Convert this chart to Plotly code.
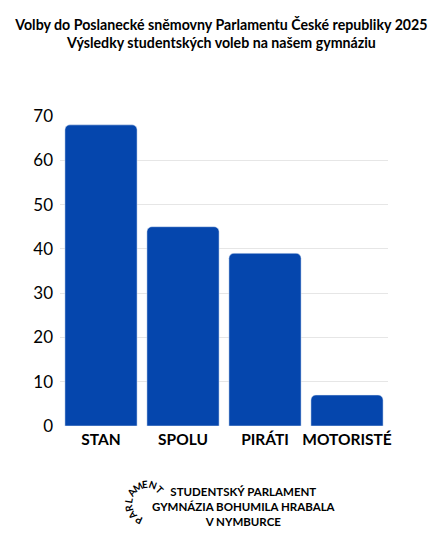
import plotly.graph_objects as go
import math

parties = ["STAN", "SPOLU", "PIRÁTI", "MOTORISTÉ"]
votes = [68, 45, 39, 7]
yticks = [0, 10, 20, 30, 40, 50, 60, 70]

OFF = 8  # page body margin
L, R, T, B = 52, 60, 108, 127
W, H = 440, 545
pw, ph = W - L - R, H - T - B

def px(x, y):
    x -= OFF; y -= OFF
    return (x - L) / pw, (H - B - y) / ph

fig = go.Figure(go.Bar(x=parties, y=votes, marker_color="#0546ad", width=0.88))
fig.update_layout(
    width=W, height=H, margin=dict(l=L, r=R, t=T, b=B, autoexpand=False),
    plot_bgcolor="white", paper_bgcolor="white", barcornerradius=5,
    font=dict(family="Lato", color="black"), showlegend=False,
    title=dict(text="<b>Volby do Poslanecké sněmovny Parlamentu České republiky 2025<br>Výsledky studentských voleb na našem gymnáziu</b>",
               x=0.485, xanchor="center", y=0.96, yanchor="top", font=dict(size=14.2, family="Lato")),
)
fig.update_yaxes(range=[0, 70], tickvals=yticks, showgrid=True, gridcolor="#e6e6e6", gridwidth=1, automargin=False,
                 tickfont=dict(size=17, family="Lato", color="black"), ticklabelstandoff=6, zeroline=False,
                 ticks="", showline=False, tickprefix="<b>", ticksuffix="</b>")
fig.update_xaxes(tickfont=dict(size=15.5, family="Lato", color="black"), ticks="", ticklabelstandoff=2, automargin=False,
                 showline=False, tickprefix="<b>", ticksuffix="</b>")

# curved logo text
cx, cy, r = 147, 503, 19
letters = "PARLAMENT"
start, end = 205, 45
for i, ch in enumerate(letters):
    ang = start + (end + 360 - start) * i / (len(letters) - 1)
    a = math.radians(ang)
    x = cx + r * math.sin(a)
    y = cy - r * math.cos(a)
    xp, yp = px(x, y)
    fig.add_annotation(x=xp, y=yp, xref="paper", yref="paper", text=f"<b>{ch}</b>", showarrow=False,
                       textangle=ang % 360, font=dict(size=10, family="Lato"),
                       xanchor="center", yanchor="middle")
xp, yp = px(244, 506)
fig.add_annotation(x=xp, y=yp, xref="paper", yref="paper", showarrow=False, align="center",
                   text="<b>STUDENTSKÝ PARLAMENT<br>GYMNÁZIA BOHUMILA HRABALA<br>V NYMBURCE</b>",
                   font=dict(size=11.5, family="Lato"), xanchor="center", yanchor="middle")
fig.write_html("out.html")
